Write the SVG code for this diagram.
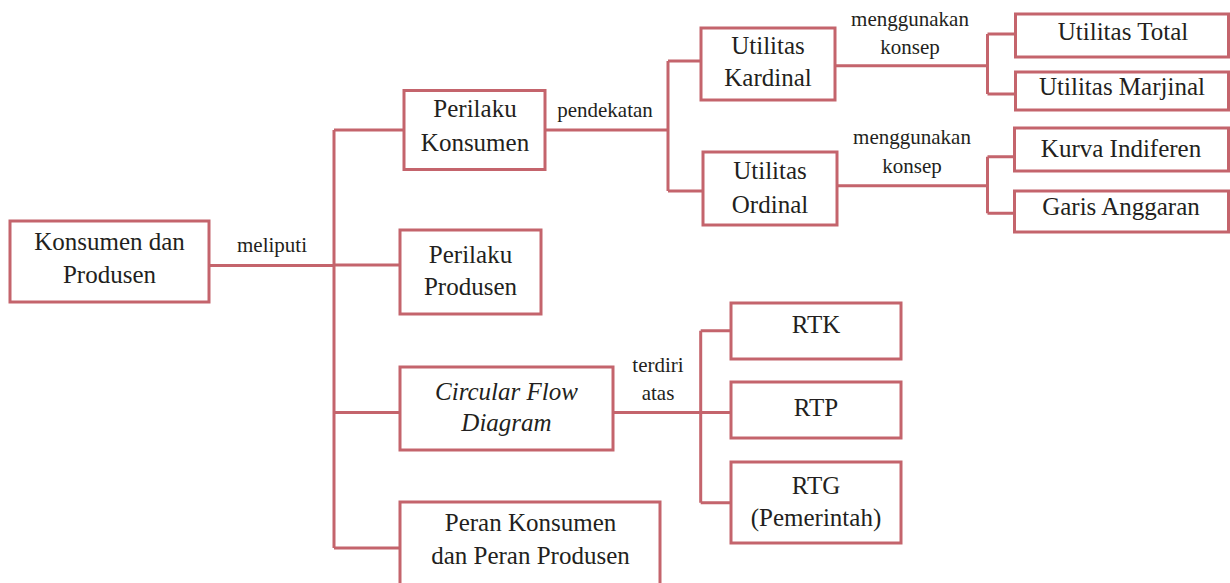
<svg xmlns="http://www.w3.org/2000/svg" width="1230" height="583" viewBox="0 0 1230 583">
<style>
.box{fill:#ffffff;stroke:#c4646c;stroke-width:3}
.ln{fill:none;stroke:#c4646c;stroke-width:3}
.t{font-family:'Liberation Serif','Times New Roman','DejaVu Serif',serif;font-size:25px;fill:#231f20;text-anchor:middle}
.i{font-style:italic}
.lb{font-family:'Liberation Serif','Times New Roman','DejaVu Serif',serif;font-size:21px;fill:#231f20;text-anchor:middle}
</style>
<rect width="1230" height="583" fill="#ffffff"/>
<g id="connectors">
<path class="ln" d="M210 265.5H334M334 130V548M334 130H404M334 265H400M334 412.5H400M334 548H400"/>
<path class="ln" d="M545 130H668M668 61V191M668 61H701M668 191H703"/>
<path class="ln" d="M835 65.7H987.5M987.5 34V94M987.5 34H1015.5M987.5 94H1015.5"/>
<path class="ln" d="M837 185.7H987.5M987.5 156.7V213.3M987.5 156.7H1014.5M987.5 213.3H1014.5"/>
<path class="ln" d="M613 412.5H731M700.7 330.7V502.7M700.7 330.7H731M700.7 502.7H731"/>
</g>
<g id="labels">
<text class="lb" x="272" y="252">meliputi</text>
<text class="lb" x="605" y="117">pendekatan</text>
<text class="lb" x="910" y="26">menggunakan</text>
<text class="lb" x="910" y="54">konsep</text>
<text class="lb" x="912" y="144">menggunakan</text>
<text class="lb" x="912" y="173">konsep</text>
<text class="lb" x="658" y="372">terdiri</text>
<text class="lb" x="658" y="400">atas</text>
</g>
<g id="n-konsumen-produsen">
<rect class="box" x="10" y="221" width="199" height="81"/>
<text class="t" x="109.5" y="249.5">Konsumen dan</text>
<text class="t" x="109.5" y="282.5">Produsen</text>
</g>
<g id="n-perilaku-konsumen">
<rect class="box" x="404" y="90.5" width="141" height="79"/>
<text class="t" x="475" y="117">Perilaku</text>
<text class="t" x="475" y="151">Konsumen</text>
</g>
<g id="n-perilaku-produsen">
<rect class="box" x="400" y="230" width="141" height="84"/>
<text class="t" x="470.5" y="262.5">Perilaku</text>
<text class="t" x="470.5" y="295">Produsen</text>
</g>
<g id="n-circular">
<rect class="box" x="400" y="367" width="213" height="83"/>
<text class="t i" x="506.5" y="400">Circular Flow</text>
<text class="t i" x="506.5" y="431">Diagram</text>
</g>
<g id="n-peran">
<rect class="box" x="400" y="502" width="260" height="85"/>
<text class="t" x="530.5" y="531">Peran Konsumen</text>
<text class="t" x="530.5" y="564">dan Peran Produsen</text>
</g>
<g id="n-kardinal">
<rect class="box" x="701" y="28" width="134" height="72"/>
<text class="t" x="768" y="53.5">Utilitas</text>
<text class="t" x="768" y="86">Kardinal</text>
</g>
<g id="n-ordinal">
<rect class="box" x="703" y="152" width="134" height="73"/>
<text class="t" x="770" y="178.5">Utilitas</text>
<text class="t" x="770" y="212.5">Ordinal</text>
</g>
<g id="n-total">
<rect class="box" x="1015.5" y="14" width="213" height="43"/>
<text class="t" x="1123" y="39.5">Utilitas Total</text>
</g>
<g id="n-marjinal">
<rect class="box" x="1015.5" y="72" width="213" height="38"/>
<text class="t" x="1122" y="95">Utilitas Marjinal</text>
</g>
<g id="n-kurva">
<rect class="box" x="1014.5" y="128" width="214" height="43"/>
<text class="t" x="1121" y="157">Kurva Indiferen</text>
</g>
<g id="n-garis">
<rect class="box" x="1014.5" y="191" width="214" height="41"/>
<text class="t" x="1121" y="215">Garis Anggaran</text>
</g>
<g id="n-rtk">
<rect class="box" x="731" y="303" width="170" height="56"/>
<text class="t" x="816" y="332.5">RTK</text>
</g>
<g id="n-rtp">
<rect class="box" x="731" y="382" width="170" height="56"/>
<text class="t" x="816" y="416">RTP</text>
</g>
<g id="n-rtg">
<rect class="box" x="731" y="462" width="170" height="81"/>
<text class="t" x="816" y="493.5">RTG</text>
<text class="t" x="816" y="526">(Pemerintah)</text>
</g>
</svg>
